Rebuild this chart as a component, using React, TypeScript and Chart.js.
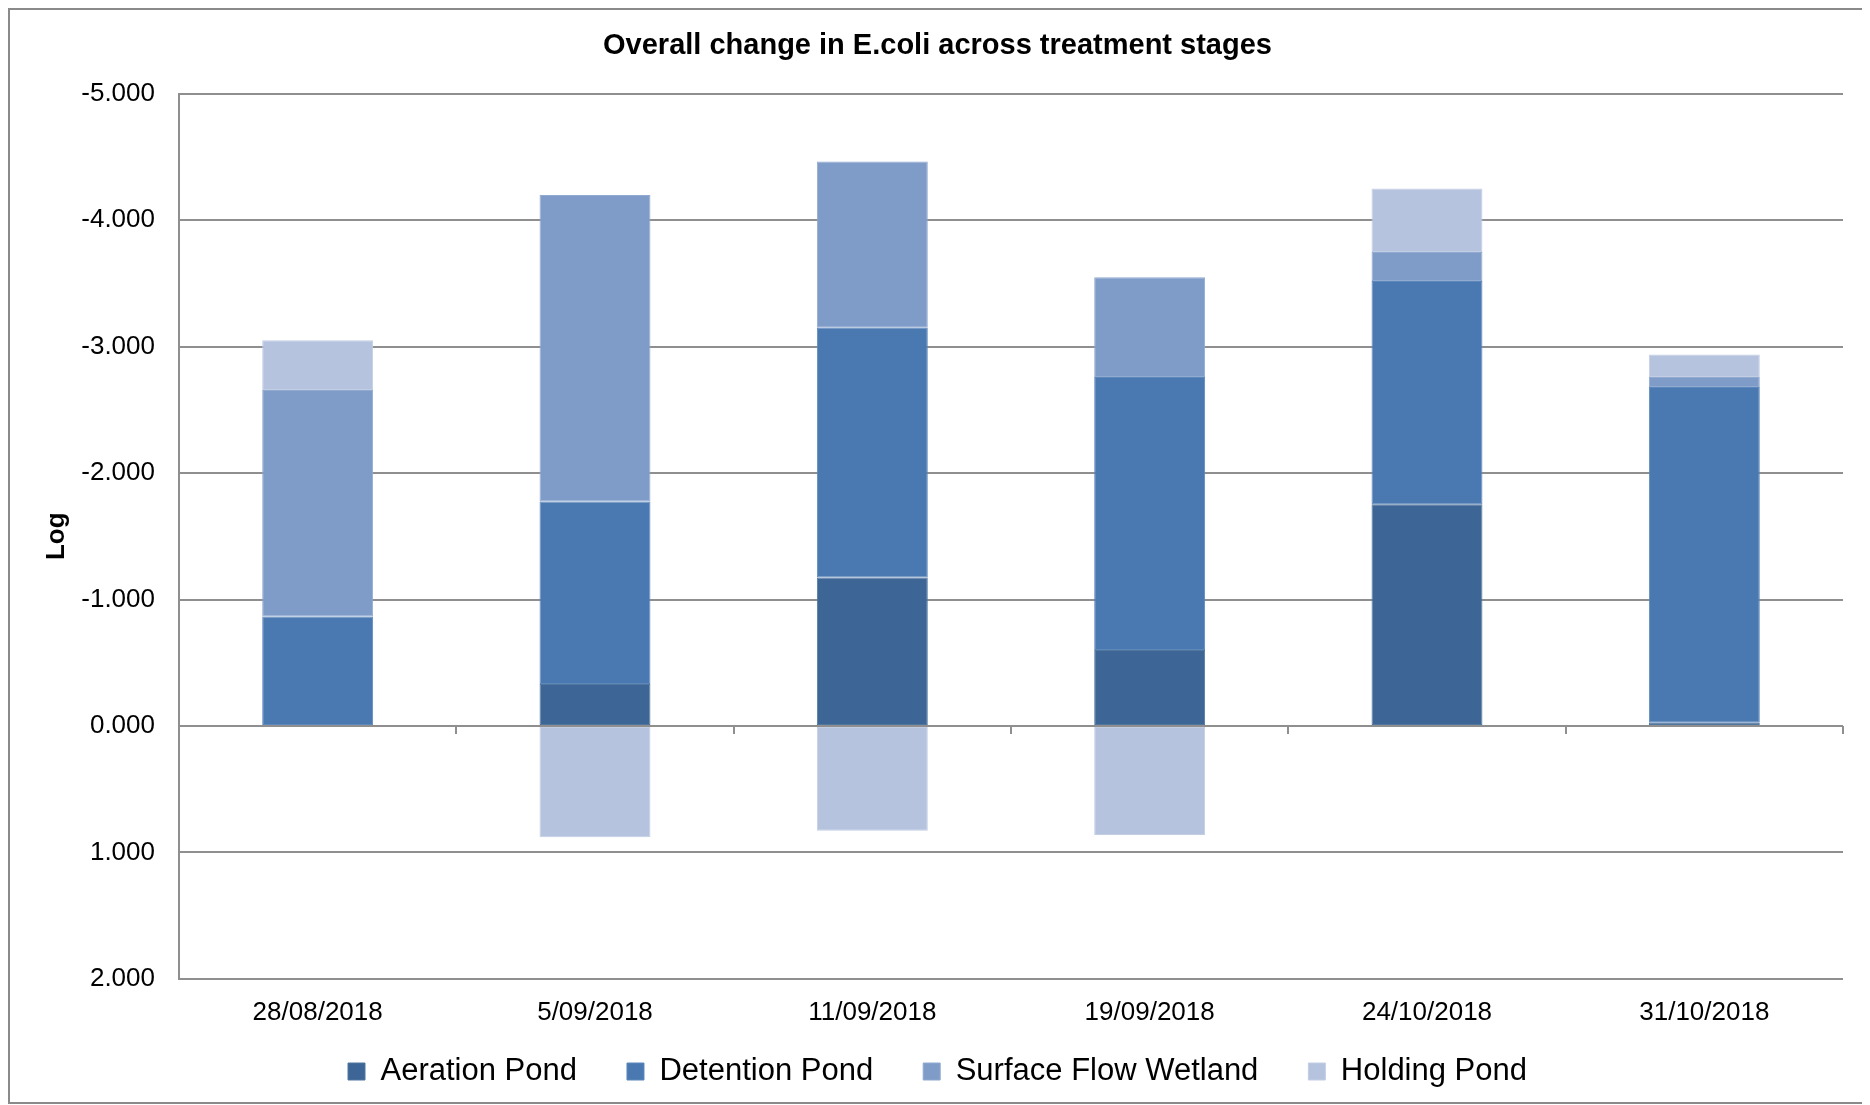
import React, { useEffect, useRef } from 'react';
import { Chart, registerables } from 'chart.js';

Chart.register(...registerables);

const categories = ['28/08/2018', '5/09/2018', '11/09/2018', '19/09/2018', '24/10/2018', '31/10/2018'];
const aerationPond = [0, -0.331, -1.175, -0.6, -1.753, -0.025];
const detentionPond = [-0.865, -1.444, -1.974, -2.16, -1.767, -2.655];
const surfaceFlowWetland = [-1.793, -2.425, -1.316, -0.789, -0.229, -0.08];
const holdingPond = [-0.393, 0.88, 0.829, 0.862, -0.502, -0.178];
const yTickValues = [-5, -4, -3, -2, -1, 0, 1, 2];

const seriesNames = ['Aeration Pond', 'Detention Pond', 'Surface Flow Wetland', 'Holding Pond'];
const seriesColors = ['#3d6596', '#4a78b0', '#7f9cc8', '#b5c3de'];
const seriesEdges = ['#52779f', '#5d88bb', '#91aad0', '#c3cee5'];

const FONT = '"Liberation Sans", Arial, Helvetica, sans-serif';
const GRID = '#8f8f8f';
const LEGEND_SHIFT = 40;

const legendShiftPlugin = {
  id: 'legendShift',
  afterLayout(chart: any) {
    const lg = chart.legend;
    if (lg) {
      lg.top -= LEGEND_SHIFT;
      lg.bottom -= LEGEND_SHIFT;
    }
  },
};

export default function App() {
  const canvasRef = useRef<HTMLCanvasElement | null>(null);

  useEffect(() => {
    if (!canvasRef.current) return;
    const seriesValues = [aerationPond, detentionPond, surfaceFlowWetland, holdingPond];
    const chart = new Chart(canvasRef.current, {
      type: 'bar',
      data: {
        labels: categories,
        datasets: seriesNames.map((name, i) => ({
          label: name,
          data: seriesValues[i],
          backgroundColor: seriesColors[i],
          borderColor: seriesEdges[i],
          borderWidth: 1,
          borderSkipped: false,
          barPercentage: 0.4,
          categoryPercentage: 1,
        })),
      },
      plugins: [legendShiftPlugin],
      options: {
        responsive: true,
        maintainAspectRatio: false,
        animation: false,
        color: '#000',
        font: { family: FONT },
        layout: { padding: { left: 22, right: 23, top: 0, bottom: -35 } },
        plugins: {
          title: {
            display: true,
            text: 'Overall change in E.coli across treatment stages',
            color: '#000',
            font: { family: FONT, size: 29, weight: 'bold' },
            padding: { top: 19, bottom: 30 },
          },
          legend: {
            position: 'bottom',
            labels: {
              color: '#000',
              font: { family: FONT, size: 31 },
              boxWidth: 17,
              boxHeight: 17,
              padding: 50,
            },
          },
          tooltip: { enabled: false },
        },
        scales: {
          x: {
            stacked: true,
            grid: { display: false, drawTicks: false },
            border: { display: false },
            ticks: { color: '#000', font: { family: FONT, size: 26 }, padding: 18, maxRotation: 0 },
          },
          x2: {
            type: 'category',
            axis: 'x',
            labels: categories,
            position: { y: 0 },
            offset: true,
            grid: { display: true, drawOnChartArea: false, drawTicks: true, tickLength: 8, offset: true, color: GRID, lineWidth: 2 },
            border: { display: false },
            ticks: { display: false },
          },
          y: {
            stacked: true,
            reverse: true,
            min: yTickValues[0],
            max: yTickValues[yTickValues.length - 1],
            ticks: {
              stepSize: 1,
              color: '#000',
              font: { family: FONT, size: 26 },
              padding: 24,
              callback: (v: any) => Number(v).toFixed(3),
            },
            grid: { color: GRID, lineWidth: 2, drawTicks: false },
            border: { display: true, color: GRID, width: 2 },
            title: {
              display: true,
              text: 'Log',
              color: '#000',
              font: { family: FONT, size: 26, weight: 'bold' },
              padding: 9,
            },
            afterFit: (axis: any) => {
              axis.width = 147;
            },
          },
        },
      },
    } as any);
    return () => chart.destroy();
  }, []);

  return (
    <div
      style={{
        position: 'relative',
        width: 1860,
        height: 1096,
        boxSizing: 'border-box',
        border: '2px solid #8a8a8a',
        background: '#fff',
      }}
    >
      <canvas ref={canvasRef} />
    </div>
  );
}
